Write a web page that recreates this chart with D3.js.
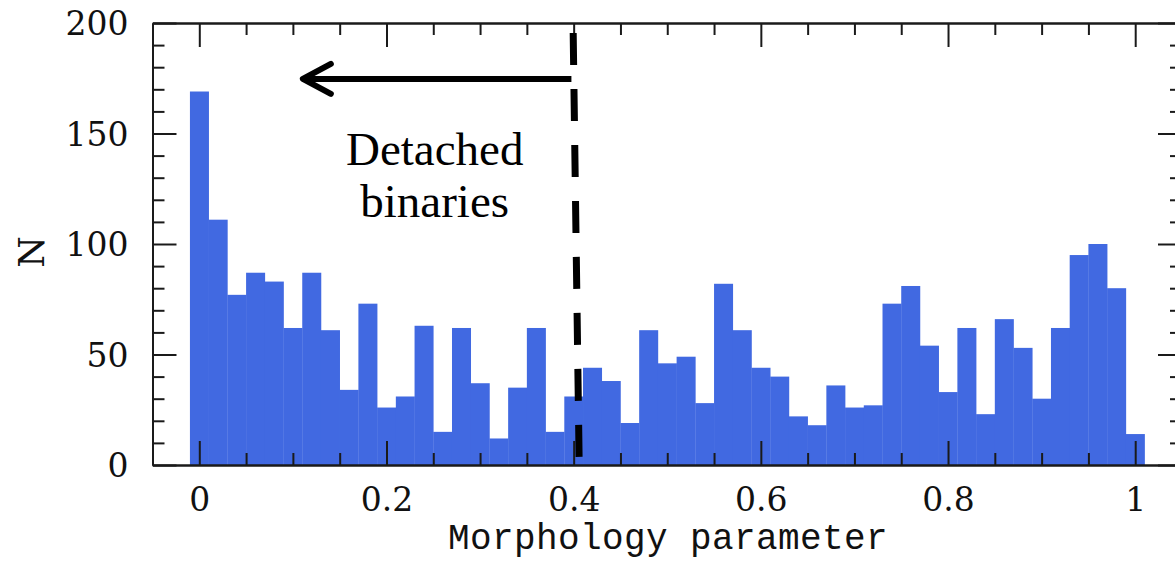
<!DOCTYPE html>
<html>
<head>
<meta charset="utf-8">
<script src="https://cdn.jsdelivr.net/npm/d3@7"></script>
<style>
  html, body { margin: 0; padding: 0; background: #fff; }
  svg { display: block; }
</style>
</head>
<body>
<svg id="chart" width="1175" height="563"></svg>
<script>
// ---- data ----
const binCenters = [0, 0.02, 0.04, 0.06, 0.08, 0.10, 0.12, 0.14, 0.16, 0.18,
  0.20, 0.22, 0.24, 0.26, 0.28, 0.30, 0.32, 0.34, 0.36, 0.38,
  0.40, 0.42, 0.44, 0.46, 0.48, 0.50, 0.52, 0.54, 0.56, 0.58,
  0.60, 0.62, 0.64, 0.66, 0.68, 0.70, 0.72, 0.74, 0.76, 0.78,
  0.80, 0.82, 0.84, 0.86, 0.88, 0.90, 0.92, 0.94, 0.96, 0.98, 1.00];
const binWidth = 0.02;
const counts = [169, 111, 77, 87, 83, 62, 87, 61, 34, 73,
  26, 31, 63, 15, 62, 37, 12, 35, 62, 15,
  31, 44, 38, 19, 61, 46, 49, 28, 82, 61,
  44, 40, 22, 18, 36, 26, 27, 73, 81, 54,
  33, 62, 23, 66, 53, 30, 62, 95, 100, 80, 14];
const xTicks = [0, 0.2, 0.4, 0.6, 0.8, 1];
const xTickLabels = ["0", "0.2", "0.4", "0.6", "0.8", "1"];
const xMinorTicks = [0.05, 0.1, 0.15, 0.25, 0.3, 0.35, 0.45, 0.5, 0.55, 0.65, 0.7, 0.75, 0.85, 0.9, 0.95];
const yTicks = [0, 50, 100, 150, 200];
const yTickLabels = ["0", "50", "100", "150", "200"];
const yMinorTicks = [10, 20, 30, 40, 60, 70, 80, 90, 110, 120, 130, 140, 160, 170, 180, 190];
const xLabel = "Morphology parameter";
const yLabel = "N";
const annotationLines = ["Detached", "binaries"];
// annotation anchors in data units
const divider = { x0: 0.3995, y0: 195.5, x1: 0.4058, y1: 3.6 };
const arrow = { xFrom: 0.3976, xTo: 0.1085, y: 174.7 };
const annotationPos = { x: 0.2515, y: 135.7 };

// ---- layout ----
const svg = d3.select("#chart");
const pLeft = 152.5, pRight = 1182, pTop = 23, pBottom = 465;
const x = d3.scaleLinear().domain([-0.05, 1.05]).range([pLeft, pRight]);
const y = d3.scaleLinear().domain([0, 200]).range([pBottom, pTop]);
const blue = "#4169E1";
const axisColor = "#1a1a1a";

// bars
svg.append("g")
  .selectAll("rect")
  .data(binCenters)
  .join("rect")
  .attr("x", d => x(d - binWidth / 2))
  .attr("width", d => x(d + binWidth / 2) - x(d - binWidth / 2) + 0.3)
  .attr("y", (d, i) => y(counts[i]))
  .attr("height", (d, i) => y(0) - y(counts[i]))
  .attr("fill", blue);

// axes helper
function styleAxis(g) {
  g.selectAll("path.domain").attr("stroke", axisColor).attr("stroke-width", 2);
  g.selectAll(".tick line").attr("stroke", axisColor).attr("stroke-width", 2);
}
const tickFont = "'DejaVu Serif', serif";

// bottom
const gB = svg.append("g").attr("transform", `translate(0,${pBottom})`)
  .call(d3.axisBottom(x).tickValues(xTicks).tickFormat((d, i) => xTickLabels[i]).tickSize(-24).tickSizeOuter(0));
gB.call(styleAxis);
gB.selectAll(".tick text").attr("y", 34).attr("dy", "0.36em")
  .attr("font-family", tickFont).attr("font-size", 33).attr("fill", "#111");
const gBm = svg.append("g").attr("transform", `translate(0,${pBottom})`)
  .call(d3.axisBottom(x).tickValues(xMinorTicks).tickFormat("").tickSize(-12).tickSizeOuter(0));
gBm.call(styleAxis);

// top
const gT = svg.append("g").attr("transform", `translate(0,${pTop})`)
  .call(d3.axisTop(x).tickValues(xTicks).tickFormat("").tickSize(-24).tickSizeOuter(0));
gT.call(styleAxis);
const gTm = svg.append("g").attr("transform", `translate(0,${pTop})`)
  .call(d3.axisTop(x).tickValues(xMinorTicks).tickFormat("").tickSize(-12).tickSizeOuter(0));
gTm.call(styleAxis);

// left
const gL = svg.append("g").attr("transform", `translate(${pLeft},0)`)
  .call(d3.axisLeft(y).tickValues(yTicks).tickFormat((d, i) => yTickLabels[i]).tickSize(-24).tickSizeOuter(0));
gL.call(styleAxis);
gL.selectAll(".tick text").attr("x", -24).attr("dy", "0.36em")
  .attr("font-family", tickFont).attr("font-size", 33).attr("fill", "#111");
const gLm = svg.append("g").attr("transform", `translate(${pLeft},0)`)
  .call(d3.axisLeft(y).tickValues(yMinorTicks).tickFormat("").tickSize(-12).tickSizeOuter(0));
gLm.call(styleAxis);

// right
const gR = svg.append("g").attr("transform", `translate(${pRight},0)`)
  .call(d3.axisRight(y).tickValues(yTicks).tickFormat("").tickSize(-24).tickSizeOuter(0));
gR.call(styleAxis);
const gRm = svg.append("g").attr("transform", `translate(${pRight},0)`)
  .call(d3.axisRight(y).tickValues(yMinorTicks).tickFormat("").tickSize(-12).tickSizeOuter(0));
gRm.call(styleAxis);

// axis titles
svg.append("text")
  .attr("x", 668).attr("y", 549)
  .attr("text-anchor", "middle")
  .attr("font-family", "'Liberation Mono', monospace")
  .attr("font-size", 36)
  .attr("letter-spacing", 0.4)
  .attr("fill", "#111")
  .text(xLabel);

svg.append("text")
  .attr("transform", "translate(31,252) rotate(-90)")
  .attr("text-anchor", "middle")
  .attr("dy", "0.36em")
  .attr("font-family", tickFont)
  .attr("font-size", 36)
  .attr("fill", "#111")
  .text(yLabel);

// dashed divider
svg.append("line")
  .attr("x1", x(divider.x0)).attr("y1", y(divider.y0))
  .attr("x2", x(divider.x1)).attr("y2", y(divider.y1))
  .attr("stroke", "#000").attr("stroke-width", 7)
  .attr("stroke-dasharray", "32,24");

// arrow
const ay = y(arrow.y);
const tipX = x(arrow.xTo);
svg.append("line")
  .attr("x1", x(arrow.xFrom)).attr("y1", ay)
  .attr("x2", tipX + 3).attr("y2", ay)
  .attr("stroke", "#000").attr("stroke-width", 6);
svg.append("path")
  .attr("d", `M${tipX + 30},${ay - 15} L${tipX + 2},${ay} L${tipX + 30},${ay + 15}`)
  .attr("fill", "none").attr("stroke", "#000").attr("stroke-width", 6)
  .attr("stroke-linecap", "round").attr("stroke-linejoin", "round");

// annotation text
const t = svg.append("text")
  .attr("x", x(annotationPos.x)).attr("y", y(annotationPos.y))
  .attr("text-anchor", "middle")
  .attr("font-family", "'Liberation Serif', 'Times New Roman', serif")
  .attr("font-size", 47)
  .attr("fill", "#000");
t.selectAll("tspan").data(annotationLines).join("tspan")
  .attr("x", x(annotationPos.x))
  .attr("dy", (d, i) => i === 0 ? 0 : 52)
  .text(d => d);
</script>
</body>
</html>
